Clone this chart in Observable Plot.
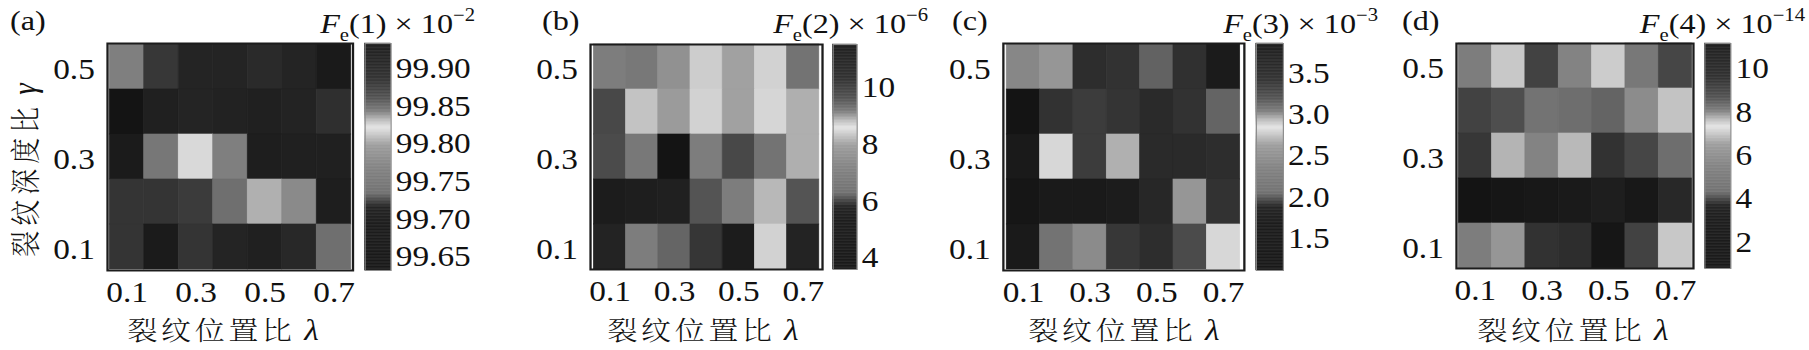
<!DOCTYPE html>
<html><head><meta charset="utf-8">
<script src="https://cdn.jsdelivr.net/npm/d3@7"></script>
<script src="https://cdn.jsdelivr.net/npm/@observablehq/plot@0.6"></script>
<style>
html,body{margin:0;padding:0;background:#fff;}
#wrap{position:relative;width:1809px;height:350px;overflow:hidden;background:#fff;}
#fig{position:absolute;left:0;top:0;width:1573px;height:350px;transform:scaleX(1.15);transform-origin:0 0;}
</style></head><body>
<div id="wrap"><div id="fig"></div></div>
<script>
// ---------- data ----------
const lambdas = [0.1, 0.2, 0.3, 0.4, 0.5, 0.6, 0.7];      // 裂纹位置比 λ
const gammaRows = [0.5, 0.4, 0.3, 0.2, 0.1];               // 裂纹深度比 γ (top row first)
const xTickValues = [0.1, 0.3, 0.5, 0.7];
const yTickValues = [0.5, 0.3, 0.1];

// F_e(1) × 10^-2
const fe1Rows = [
  [99.839, 99.877, 99.906, 99.906, 99.891, 99.906, 99.929],
  [99.630, 99.916, 99.906, 99.912, 99.916, 99.909, 99.883],
  [99.927, 99.842, 99.821, 99.839, 99.921, 99.916, 99.916],
  [99.879, 99.879, 99.874, 99.845, 99.830, 99.837, 99.921],
  [99.879, 99.927, 99.879, 99.906, 99.916, 99.897, 99.845]
];
const fe1Domain = [99.628, 99.930];
const fe1Ticks = [99.65, 99.70, 99.75, 99.80, 99.85, 99.90];

// F_e(2) × 10^-6
const fe2Rows = [
  [6.92, 6.67, 7.56, 8.29, 7.90, 8.33, 6.42],
  [5.96, 8.20, 7.85, 8.33, 7.90, 8.37, 8.03],
  [5.98, 6.67, 3.55, 6.92, 5.96, 6.42, 8.03],
  [5.47, 5.59, 5.71, 6.03, 6.92, 8.11, 6.03],
  [5.73, 6.92, 6.13, 5.85, 11.30, 8.33, 5.73]
];
const fe2Domain = [3.49, 11.42];
const fe2Ticks = [4, 6, 8, 10];

// F_e(3) × 10^-3
const fe3Rows = [
  [2.985, 2.960, 3.412, 3.377, 3.101, 3.390, 3.800],
  [1.100, 3.377, 3.305, 3.363, 3.467, 3.377, 3.092],
  [1.728, 2.837, 3.305, 2.916, 3.467, 3.467, 3.412],
  [1.385, 1.728, 1.728, 1.769, 1.865, 2.960, 3.377],
  [1.728, 3.037, 2.977, 3.341, 3.412, 3.201, 2.837]
];
const fe3Domain = [1.084, 3.823];
const fe3Ticks = [1.5, 2.0, 2.5, 3.0, 3.5];

// F_e(4) × 10^-14
const fe4Rows = [
  [5.15, 6.89, 3.84, 5.44, 6.94, 4.82, 3.88],
  [3.84, 3.94, 4.50, 4.19, 4.11, 5.79, 6.83],
  [3.75, 6.66, 5.44, 6.72, 3.71, 3.88, 4.19],
  [0.70, 1.80, 2.94, 3.10, 3.41, 2.94, 3.63],
  [5.15, 6.17, 3.71, 3.67, 1.80, 3.84, 6.89]
];
const fe4Domain = [0.654, 11.05];
const fe4Ticks = [2, 4, 6, 8, 10];

// ---------- styling / layout ----------
const S = 1.15; // horizontal stretch of the original figure
const serif = '"Liberation Serif","Times New Roman",serif';
const cjk = '"Noto Serif CJK SC","Noto Sans CJK SC",sans-serif';

// grey rendering of the colour map (as printed)
const rampStops = [[0,20],[0.22,24],[0.28,32],[0.31,70],[0.34,110],[0.45,128],[0.55,155],[0.60,200],[0.63,228],[0.66,190],[0.70,125],[0.76,80],[0.85,45],[1,26]];
function grayRamp(t) {
  t = Math.max(0, Math.min(1, t));
  let i = 1;
  while (i < rampStops.length - 1 && rampStops[i][0] < t) i++;
  const [t0, g0] = rampStops[i - 1], [t1, g1] = rampStops[i];
  const g = Math.round(g0 + (g1 - g0) * (t - t0) / (t1 - t0));
  return `rgb(${g},${g},${g})`;
}

const layout = [
  {tag:"(a)", mode:"1", exp:"\u22122",  rows:fe1Rows, domain:fe1Domain, ticks:fe1Ticks, fmt:d3.format(".2f"), frame:[107,352.5,43,270], cb:[364.5,390.5], tagX:10,   labelR:475,  xlabC:223,  ylab:true},
  {tag:"(b)", mode:"2", exp:"\u22126",  rows:fe2Rows, domain:fe2Domain, ticks:fe2Ticks, fmt:d3.format("d"),   frame:[590,822,44,269],   cb:[833,857],     tagX:542,  labelR:928,  xlabC:703},
  {tag:"(c)", mode:"3", exp:"\u22123",  rows:fe3Rows, domain:fe3Domain, ticks:fe3Ticks, fmt:d3.format(".1f"), frame:[1003,1244,43,270], cb:[1256,1283],   tagX:952,  labelR:1378, xlabC:1124},
  {tag:"(d)", mode:"4", exp:"\u221214", rows:fe4Rows, domain:fe4Domain, ticks:fe4Ticks, fmt:d3.format("d"),   frame:[1456,1693,43,268], cb:[1704,1730],   tagX:1402, labelR:1805, xlabC:1573}
];

function toCells(rows) {
  return rows.flatMap((row, i) => row.map((v, j) => ({lambda: lambdas[j], gamma: gammaRows[i], value: v})));
}

const fig = document.getElementById("fig");
function place(node, left, top) {
  node.style.position = "absolute";
  node.style.left = left + "px";
  node.style.top = top + "px";
  fig.appendChild(node);
}

const ov = d3.create("svg").attr("width", 1573).attr("height", 350)
  .style("position", "absolute").style("left", "0px").style("top", "0px").style("overflow", "visible");

layout.forEach(p => {
  const cells = toCells(p.rows);
  const colorOpts = {type: "linear", domain: p.domain, interpolate: grayRamp};
  const fx0 = p.frame[0] / S, fx1 = p.frame[1] / S;
  const mL = 70, mR = 4;
  const heat = Plot.plot({
    width: fx1 - fx0 + mL + mR, height: 350,
    marginLeft: mL, marginRight: mR, marginTop: p.frame[2], marginBottom: 350 - p.frame[3],
    x: {type: "band", domain: lambdas, padding: 0},
    y: {type: "band", domain: gammaRows, padding: 0},
    color: colorOpts,
    style: {fontFamily: serif, fontSize: "29px", color: "#111", background: "transparent", overflow: "visible"},
    marks: [
      Plot.cell(cells, {x: "lambda", y: "gamma", fill: "value", stroke: "value", strokeWidth: 0.6, inset: 0}),
      Plot.frame({stroke: "#1c1c1c", strokeWidth: 2}),
      Plot.axisX({ticks: xTickValues, tickSize: 0, tickPadding: 11, tickFormat: d => d.toFixed(1), label: null}),
      Plot.axisY({ticks: yTickValues, tickSize: 0, tickPadding: 11, dy: 3, tickFormat: d => d.toFixed(1), label: null})
    ]
  });
  place(heat, fx0 - mL, 0);

  // colour bar
  const n = 300, lo = p.domain[0], hi = p.domain[1], step = (hi - lo) / n;
  const slices = d3.range(n).map(i => ({y1: lo + i * step, y2: lo + (i + 1) * step, v: lo + (i + 0.5) * step}));
  const cbW = (p.cb[1] - p.cb[0]) / S, cmR = 95;
  const bar = Plot.plot({
    width: cbW + cmR, height: 350,
    marginLeft: 0, marginRight: cmR, marginTop: p.frame[2], marginBottom: 350 - p.frame[3],
    x: {domain: [0, 1], axis: null},
    y: {domain: p.domain},
    color: colorOpts,
    style: {fontFamily: serif, fontSize: "29px", color: "#111", background: "transparent", overflow: "visible"},
    marks: [
      Plot.rect(slices, {x1: 0, x2: 1, y1: "y1", y2: "y2", fill: "v", stroke: "v", strokeWidth: 0.4}),
      Plot.frame({stroke: "#8a8a8a", strokeWidth: 1}),
      Plot.axisY({anchor: "right", ticks: p.ticks, tickSize: 0, tickPadding: 4, dy: 3, tickFormat: p.fmt, label: null})
    ]
  });
  place(bar, p.cb[0] / S, 0);

  // panel tag
  ov.append("text").attr("x", p.tagX / S).attr("y", 30)
    .attr("font-family", serif).attr("font-size", 28).attr("fill", "#111").text(p.tag);

  // colour-bar title  F_e(k) × 10^-n
  const t = ov.append("text").attr("x", p.labelR / S).attr("y", 33).attr("text-anchor", "end")
    .attr("font-family", serif).attr("font-size", 28).attr("fill", "#111");
  t.append("tspan").attr("font-style", "italic").text("F");
  t.append("tspan").attr("font-size", 18).attr("dy", 8.5).text("e");
  t.append("tspan").attr("dy", -8.5).text(`(${p.mode}) \u00d7 10`);
  t.append("tspan").attr("font-size", 18).attr("dy", -12).text(p.exp);

  // x title
  const xl = ov.append("text").attr("x", p.xlabC / S).attr("y", 340).attr("text-anchor", "middle").attr("fill", "#111");
  xl.append("tspan").attr("font-family", cjk).attr("font-size", 26).attr("font-weight", 300).attr("letter-spacing", 3.3).text("裂纹位置比");
  xl.append("tspan").attr("font-family", serif).attr("font-style", "italic").attr("font-size", 29).text(" λ");

  if (p.ylab) {
    const yl = ov.append("text").attr("transform", `translate(31,170) rotate(-90)`).attr("text-anchor", "middle").attr("fill", "#111");
    yl.append("tspan").attr("font-family", cjk).attr("font-size", 26).attr("font-weight", 300).attr("letter-spacing", 5).text("裂纹深度比");
    yl.append("tspan").attr("font-family", serif).attr("font-style", "italic").attr("font-size", 29).text(" γ");
  }
});

fig.appendChild(ov.node());
</script>
</body></html>
